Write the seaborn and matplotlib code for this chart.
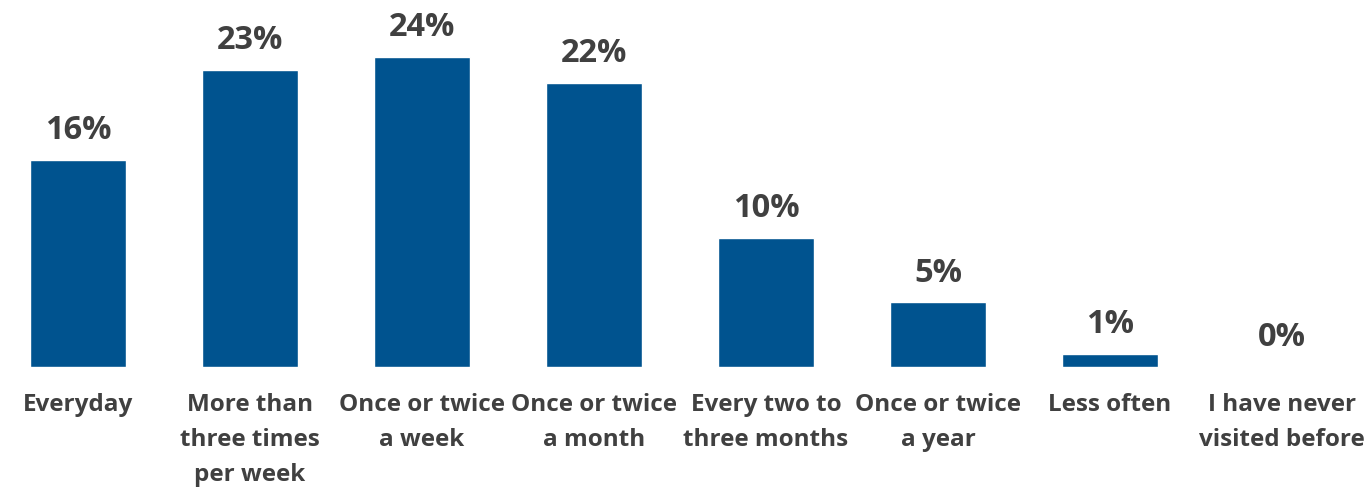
import matplotlib
matplotlib.use("Agg")
import matplotlib.pyplot as plt
import seaborn as sns
import pandas as pd

categories = [
    "Everyday",
    "More than\nthree times\nper week",
    "Once or twice\na week",
    "Once or twice\na month",
    "Every two to\nthree months",
    "Once or twice\na year",
    "Less often",
    "I have never\nvisited before",
]
values = [16, 23, 24, 22, 10, 5, 1, 0]

BAR_COLOR = "#00538F"
TEXT_COLOR = "#404040"

sns.set_theme(style="white")
plt.rcParams["font.family"] = ["Open Sans", "DejaVu Sans"]

df = pd.DataFrame({"category": categories, "value": values})

fig = plt.figure(figsize=(13.68, 4.91), dpi=100)
ax = fig.add_axes([0, 0.2525, 1, 0.7475])

sns.barplot(data=df, x="category", y="value", color=BAR_COLOR,
            saturation=1, width=0.558, ax=ax)

ax.set_xlim(-0.4535, 7.5)
ax.set_ylim(0, 28.4)

for i, v in enumerate(values):
    ax.annotate(f"{v}%", xy=(i, v), xytext=(0, 15), textcoords="offset points",
                ha="center", va="baseline", fontsize=23.5, fontweight="bold",
                color=TEXT_COLOR)

ax.set_xlabel("")
ax.set_ylabel("")
ax.set_yticks([])
ax.tick_params(axis="x", length=0, pad=19)
for lbl in ax.get_xticklabels():
    lbl.set_fontsize(17.5)
    lbl.set_fontweight("bold")
    lbl.set_color(TEXT_COLOR)
    lbl.set_linespacing(1.6)
sns.despine(ax=ax, left=True, bottom=True)

fig.savefig("out.png", dpi=100)
